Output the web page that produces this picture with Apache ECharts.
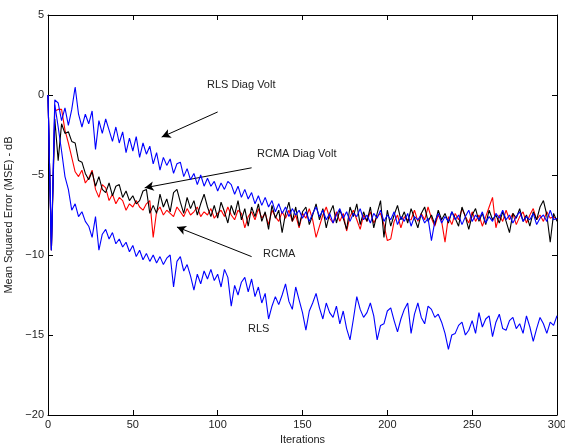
<!DOCTYPE html>
<html>
<head>
<meta charset="utf-8">
<script src="https://cdn.jsdelivr.net/npm/echarts@6/dist/echarts.min.js"></script>
<style>html,body{margin:0;padding:0;background:#fff;}#c{width:565px;height:444px;}</style>
</head>
<body>
<div id="c"></div>
<script>
// Iteration spacing between stored samples
const STEP = 2;
const xTicks = [0, 50, 100, 150, 200, 250, 300];
const yTicks = [-20, -15, -10, -5, 0, 5];

const rlsDiagVolt = [0,-9.7,-0.3,-0.5,-1.6,-0.8,-1.9,-0.9,0.5,-1.2,-2.0,-1.2,-1.8,-1.0,-3.4,-1.6,-2.4,-1.5,-2.2,-2.9,
-2.0,-3.0,-2.3,-3.6,-2.7,-3.5,-2.6,-3.9,-3.0,-3.7,-3.2,-4.3,-3.6,-4.7,-3.9,-4.4,-4.0,-4.9,-4.3,-4.2,
-5.1,-4.6,-5.3,-4.9,-5.6,-5.0,-5.7,-5.2,-5.7,-5.4,-6.0,-5.5,-5.9,-5.4,-5.6,-6.2,-5.7,-6.4,-5.9,-6.5,
-6.1,-6.8,-6.3,-6.9,-6.4,-7.0,-6.6,-7.3,-6.8,-7.4,-7.0,-7.6,-7.1,-7.5,-7.2,-7.7,-7.3,-7.9,-7.4,-7.0,
-7.6,-7.2,-7.8,-7.4,-8.0,-7.5,-7.1,-7.7,-7.3,-7.9,-7.4,-7.6,-7.1,-7.8,-7.5,-8.0,-7.4,-7.7,-7.2,-7.9,
-7.5,-7.8,-7.3,-8.1,-7.6,-7.9,-7.4,-8.2,-7.6,-7.8,-7.5,-8.0,-7.7,-9.1,-7.9,-7.4,-8.0,-7.6,-7.9,-7.3,
-7.8,-7.5,-8.1,-7.6,-7.2,-7.9,-7.5,-7.8,-7.3,-8.0,-7.6,-7.9,-7.4,-7.7,-7.2,-7.8,-7.5,-8.0,-7.6,-7.3,
-7.9,-7.6,-7.8,-7.4,-8.1,-7.7,-7.5,-7.9,-7.2,-7.8,-7.7];

const rls = [0,-9.7,-0.6,-2.0,-3.5,-5.1,-5.9,-7.2,-6.8,-7.6,-7.3,-7.9,-8.2,-8.9,-7.6,-9.7,-8.7,-8.4,-9.0,-8.6,
-9.3,-9.0,-9.5,-9.2,-9.8,-9.4,-10.1,-9.7,-10.3,-9.9,-10.4,-10.0,-10.5,-10.1,-10.6,-10.2,-10.0,-12.0,-10.4,-10.1,
-11.0,-10.6,-11.3,-12.2,-11.2,-11.8,-11.0,-11.5,-10.9,-11.6,-11.2,-12.0,-10.9,-11.4,-13.2,-11.9,-12.5,-11.7,-11.4,-12.3,
-11.5,-12.6,-12.0,-13.0,-12.4,-14.0,-13.2,-12.6,-13.1,-12.5,-11.8,-12.9,-13.4,-12.0,-12.8,-13.6,-14.7,-13.5,-13.0,-12.4,
-13.3,-14.0,-13.0,-13.6,-13.9,-13.2,-14.3,-13.5,-14.6,-15.3,-14.0,-12.6,-13.4,-13.9,-13.6,-13.0,-13.8,-15.3,-14.4,-14.3,
-13.5,-13.3,-14.1,-14.8,-14.0,-13.4,-13.0,-14.9,-13.7,-13.0,-13.9,-14.3,-13.2,-13.4,-13.9,-13.7,-14.2,-14.9,-15.9,-15.0,
-14.9,-14.4,-14.2,-15.0,-14.7,-14.1,-14.9,-13.6,-14.5,-14.0,-13.8,-15.1,-14.2,-13.7,-14.6,-14.7,-14.1,-13.9,-14.6,-14.3,
-14.9,-13.8,-14.5,-15.4,-14.6,-13.9,-14.3,-14.9,-14.2,-14.4,-13.8];

const rcma = [0,-9.7,-1.0,-0.9,-0.9,-2.2,-3.0,-3.9,-4.8,-5.1,-4.7,-5.5,-5.2,-4.7,-5.9,-6.4,-5.6,-5.8,-6.6,-6.2,
-6.8,-6.4,-6.6,-7.2,-6.8,-7.0,-6.6,-7.0,-7.2,-6.8,-6.6,-8.9,-7.3,-7.0,-7.5,-7.2,-7.4,-7.6,-7.0,-7.3,
-7.6,-7.1,-7.5,-7.3,-7.0,-7.6,-7.3,-7.5,-7.1,-7.7,-7.4,-7.2,-7.6,-7.0,-7.5,-7.8,-7.2,-7.4,-8.3,-7.6,
-7.3,-7.8,-7.1,-7.7,-7.4,-8.1,-7.2,-7.6,-7.9,-7.3,-7.7,-7.2,-7.9,-7.5,-8.3,-7.4,-7.7,-7.1,-7.8,-8.9,
-8.2,-7.5,-7.0,-7.7,-8.0,-7.3,-7.9,-7.4,-8.5,-7.6,-7.2,-7.8,-8.4,-7.5,-7.9,-7.3,-8.0,-7.6,-7.4,-8.1,
-9.1,-9.0,-7.9,-7.5,-8.3,-7.6,-7.8,-7.8,-7.2,-7.9,-7.4,-7.8,-7.0,-7.7,-8.2,-7.5,-7.9,-9.2,-7.6,-8.1,
-7.4,-7.8,-7.1,-7.6,-8.0,-7.3,-7.9,-7.5,-8.2,-7.6,-7.0,-6.4,-8.3,-7.5,-7.9,-7.2,-7.8,-7.4,-8.1,-7.6,
-7.3,-8.0,-7.5,-7.1,-7.8,-7.5,-7.9,-7.3,-7.7,-7.6,-7.8];

const rcmaDiagVolt = [0,-9.7,-1.5,-4.1,-1.8,-2.4,-2.3,-2.9,-3.0,-4.1,-4.2,-4.9,-5.3,-4.8,-5.7,-5.1,-5.9,-6.1,-5.5,-6.3,
-5.7,-5.6,-6.4,-6.0,-6.6,-6.3,-6.8,-6.6,-6.0,-5.9,-7.4,-6.9,-7.4,-6.2,-7.0,-6.5,-7.3,-6.1,-5.9,-6.7,
-7.4,-6.4,-7.1,-6.6,-7.5,-6.8,-6.2,-7.0,-7.6,-6.9,-7.7,-6.7,-7.3,-8.0,-6.9,-7.5,-6.6,-7.8,-7.1,-8.2,
-7.0,-7.6,-6.8,-7.9,-7.3,-8.4,-6.9,-7.7,-7.2,-8.6,-7.4,-6.7,-7.9,-7.0,-8.2,-7.3,-7.0,-8.1,-7.5,-6.8,
-7.8,-7.1,-8.3,-7.4,-6.9,-8.0,-7.2,-7.7,-8.4,-7.0,-7.6,-6.8,-8.1,-7.3,-7.9,-7.0,-8.3,-7.4,-6.6,-8.9,
-7.2,-8.2,-7.5,-6.9,-7.8,-7.3,-8.0,-7.1,-7.7,-8.3,-7.4,-7.0,-7.9,-7.5,-8.1,-7.2,-7.8,-7.4,-8.0,-7.3,
-7.7,-8.2,-7.0,-7.6,-8.4,-7.5,-7.1,-7.9,-7.4,-8.1,-7.2,-7.8,-7.5,-8.0,-7.3,-7.9,-8.6,-7.4,-7.7,-7.1,
-7.9,-7.5,-8.2,-7.3,-7.8,-7.0,-6.6,-7.5,-9.2,-7.4,-7.9];

function pairs(arr){ return arr.map(function(v,k){ return [k*STEP, v]; }); }

const fontFam = '"Liberation Sans", Arial, Helvetica, sans-serif';
const txt = '#222';
const minusFmt = function(v){ return String(v).replace('-', '\u2212'); };

const chart = echarts.init(document.getElementById('c'), null, {renderer:'canvas'});

const axisCommon = {
  axisLine:{show:true, onZero:false, lineStyle:{color:'#000', width:1}},
  axisTick:{show:true, inside:true, length:5, lineStyle:{color:'#000', width:1}},
  splitLine:{show:false}
};

function lineSeries(name, data, color, z){
  return {name:name, type:'line', data:pairs(data), showSymbol:false, symbol:'none',
    lineStyle:{color:color, width:1.1}, itemStyle:{color:color}, z:z, animation:false, silent:true};
}

const arrows = [
  [{coord:[100,-1.06]},{coord:[67,-2.63]}],
  [{coord:[120,-4.55]},{coord:[57,-5.8]}],
  [{coord:[120,-10.1]},{coord:[76,-8.25]}]
];

const series = [
  lineSeries('RCMA', rcma, '#ff0000', 2),
  lineSeries('RCMA Diag Volt', rcmaDiagVolt, '#000000', 3),
  lineSeries('RLS', rls, '#0000ff', 4),
  lineSeries('RLS Diag Volt', rlsDiagVolt, '#0000ff', 5)
];
series[3].markLine = {
  silent:true, animation:false, symbol:['none','arrow'], symbolSize:[7,9],
  label:{show:false}, lineStyle:{color:'#000', width:1, type:'solid'},
  emphasis:{disabled:true}, data:arrows
};

chart.setOption({
  backgroundColor:'#fff',
  animation:false,
  grid:{left:48, right:8, top:15, bottom:29, containLabel:false, outerBoundsMode:'none'},
  xAxis:[
    Object.assign({type:'value', min:0, max:300, interval:50, position:'bottom',
      name:'Iterations', nameLocation:'middle', nameGap:15,
      nameTextStyle:{color:txt, fontSize:11, fontFamily:fontFam},
      axisLabel:{color:txt, fontSize:11, fontFamily:fontFam, margin:4}}, axisCommon),
    Object.assign({type:'value', min:0, max:300, interval:50, position:'top',
      axisLabel:{show:false}}, axisCommon)
  ],
  yAxis:[
    Object.assign({type:'value', min:-20, max:5, interval:5, position:'left',
      name:'Mean Squared Error (MSE) - dB', nameLocation:'middle', nameGap:25, nameRotate:90,
      nameTextStyle:{color:txt, fontSize:11, fontFamily:fontFam},
      axisLabel:{color:txt, fontSize:11, fontFamily:fontFam, margin:4, formatter:minusFmt}}, axisCommon),
    Object.assign({type:'value', min:-20, max:5, interval:5, position:'right',
      axisLabel:{show:false}}, axisCommon)
  ],
  series:series,
  graphic:[
    {type:'text', left:207, top:79, style:{text:'RLS Diag Volt', font:'11px '+fontFam, fill:txt}},
    {type:'text', left:257, top:148, style:{text:'RCMA Diag Volt', font:'11px '+fontFam, fill:txt}},
    {type:'text', left:263, top:248, style:{text:'RCMA', font:'11px '+fontFam, fill:txt}},
    {type:'text', left:248, top:323, style:{text:'RLS', font:'11px '+fontFam, fill:txt}}
  ]
});
</script>
</body>
</html>
